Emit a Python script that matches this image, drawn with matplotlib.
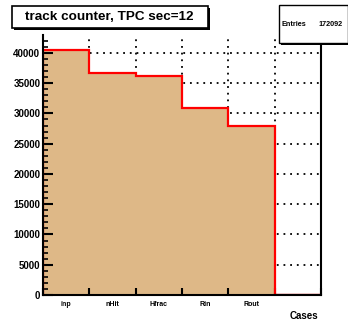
import matplotlib
matplotlib.use("Agg")
import matplotlib.pyplot as plt
import numpy as np
from matplotlib.patches import Rectangle
from matplotlib.ticker import MultipleLocator

categories = ["inp", "nHit", "Hfrac", "Rin", "Rout", ""]
counts = [40500, 36700, 36100, 30950, 27842, 0]
entries_label = "172092"
title_text = "track counter, TPC sec=12"
xlabel_text = "Cases"

plt.rcParams['font.family'] = ['Liberation Sans', 'DejaVu Sans']
plt.rcParams['font.weight'] = 'bold'

fig = plt.figure(figsize=(3.48, 3.33), dpi=100)
fig.patch.set_facecolor('white')
ax = fig.add_axes([43/348, 1-295/333, 278/348, 260/333])

n = len(categories)
edges = np.arange(n + 1)
ax.stairs(counts, edges, fill=True, color='#deb887', zorder=2)
ax.stairs(counts, edges, color='red', linewidth=1.6, zorder=3)
ax.plot([edges[-2], edges[-1]], [0, 0], color='#8b0000', lw=1.6, zorder=3)

ax.set_xlim(0, n)
ax.set_ylim(0, 42950)

ax.yaxis.set_major_locator(MultipleLocator(5000))
ax.yaxis.set_minor_locator(MultipleLocator(1000))
ax.set_xticks(edges)
ax.set_xticklabels([])
ax.set_xticks(edges[:-1] + 0.5, minor=True)
ax.set_xticklabels(categories, minor=True, fontsize=5, fontweight='bold')
ax.tick_params(axis='x', which='major', direction='in', length=5, width=1.5, top=False)
ax.tick_params(axis='x', which='minor', length=0, pad=4)
ax.tick_params(axis='y', which='major', direction='in', length=7, width=1.5, labelsize=7, pad=2)
ax.tick_params(axis='y', which='minor', direction='in', length=3.5, width=1.2)
for lab in ax.get_yticklabels():
    lab.set_fontweight('bold')

# grid drawn behind the histogram
dots = (0, (1, 2.7))
for yv in np.arange(5000, 42950, 5000):
    ax.axhline(yv, color='black', linestyle=dots, linewidth=1.3, zorder=1)
for xv in edges[1:-1]:
    ax.axvline(xv, color='black', linestyle=dots, linewidth=1.3, zorder=1)
ax.set_axisbelow(False)

ax.spines['top'].set_visible(False)
for s in ['left', 'bottom', 'right']:
    ax.spines[s].set_linewidth(1.5)
    ax.spines[s].set_zorder(4)

fig.text(318/348, 1-316/333, xlabel_text, ha='right', va='center', fontsize=7, fontweight='bold')

# title box with shadow
fig.patches.append(Rectangle((14/348, 1-30/333), 196/348, 22/333, transform=fig.transFigure,
                             facecolor='black', edgecolor='black', lw=0, figure=fig))
fig.patches.append(Rectangle((12/348, 1-28/333), 196/348, 22/333, transform=fig.transFigure,
                             facecolor='white', edgecolor='black', lw=1.2, figure=fig))
fig.text(109/348, 1-17/333, title_text, ha='center', va='center', fontsize=9.7, fontweight='bold')

# stats box with shadow
fig.patches.append(Rectangle((281/348, 1-45/333), 69/348, 38/333, transform=fig.transFigure,
                             facecolor='black', edgecolor='black', lw=0, figure=fig, zorder=5))
fig.patches.append(Rectangle((279/348, 1-43/333), 69/348, 38/333, transform=fig.transFigure,
                             facecolor='white', edgecolor='black', lw=1.0, figure=fig, zorder=5))
fig.text(282/348, 1-25/333, "Entries", ha='left', va='center', fontsize=5.2, fontweight='bold', zorder=6)
fig.text(343/348, 1-25/333, entries_label, ha='right', va='center', fontsize=5.2, fontweight='bold', zorder=6)

fig.savefig("out.png", dpi=100, facecolor='white')
